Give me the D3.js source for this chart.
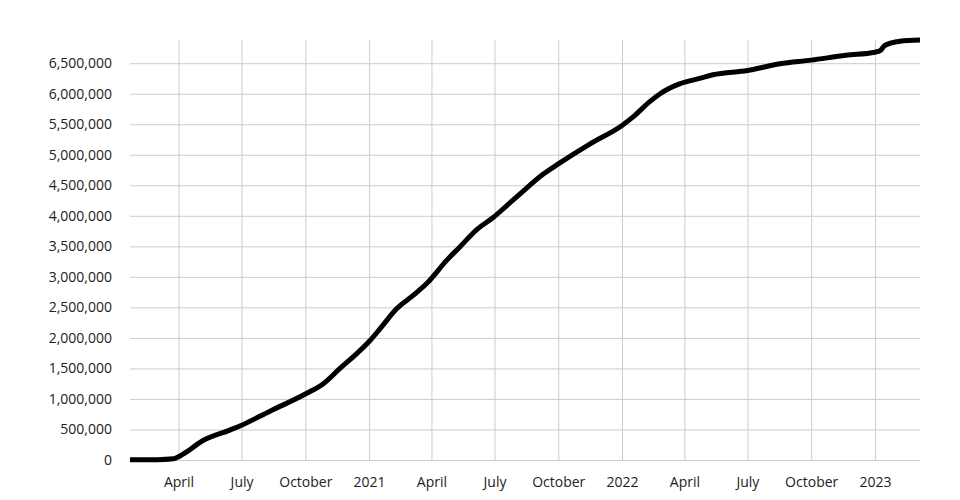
<!DOCTYPE html>
<html>
<head>
<meta charset="utf-8">
<script src="https://cdn.jsdelivr.net/npm/d3@7"></script>
<style>
  html, body { margin: 0; padding: 0; background: #fff; }
  svg { display: block; }
  svg text { font-family: "Open Sans", sans-serif; }
</style>
</head>
<body>
<svg id="chart" width="960" height="500"></svg>
<script>
// Cumulative values
const dates = [
  "2020-01-22","2020-03-01","2020-03-25","2020-04-01","2020-04-15","2020-05-02",
  "2020-06-14","2020-07-01","2020-08-11","2020-10-01","2020-10-27","2020-11-20",
  "2020-12-15","2021-01-01","2021-01-19","2021-02-10","2021-03-06",
  "2021-03-25","2021-04-23","2021-05-12","2021-06-05","2021-06-30","2021-07-18",
  "2021-08-07","2021-09-09","2021-10-01","2021-11-16","2022-01-01","2022-01-17",
  "2022-02-10","2022-02-25","2022-03-25","2022-04-23","2022-05-12","2022-07-01",
  "2022-08-17","2022-10-01","2022-11-20","2023-01-01","2023-01-09","2023-01-15",
  "2023-02-06","2023-03-07"
];
const deaths = [
  5000, 6000, 20000, 55000, 150000, 290000,
  490000, 570000, 800000, 1080000, 1250000, 1500000,
  1750000, 1940000, 2180000, 2480000, 2700000,
  2890000, 3270000, 3490000, 3770000, 3980000, 4160000,
  4360000, 4680000, 4850000, 5180000, 5480000, 5620000,
  5870000, 6000000, 6160000, 6250000, 6310000, 6380000,
  6490000, 6550000, 6630000, 6680000, 6710000, 6790000,
  6860000, 6880000
];
const yTickValues = [0,500000,1000000,1500000,2000000,2500000,3000000,3500000,4000000,4500000,5000000,5500000,6000000,6500000];
const monthNames = ["January","February","March","April","May","June","July","August","September","October","November","December"];

const parse = d3.timeParse("%Y-%m-%d");
const data = dates.map((d, i) => ({ date: parse(d), value: deaths[i] }));

const svg = d3.select("#chart");
const mLeft = 130, mRight = 920, mTop = 40, mBottom = 460;

const x = d3.scaleTime()
  .domain(d3.extent(data, d => d.date))
  .range([mLeft, mRight]);
const y = d3.scaleLinear()
  .domain([0, d3.max(deaths)])
  .range([mBottom, mTop]);

// horizontal grid + y labels
const yAxis = d3.axisLeft(y)
  .tickValues(yTickValues)
  .tickSize(-(mRight - mLeft))
  .tickPadding(18)
  .tickFormat(d3.format(","));
const gy = svg.append("g").attr("transform", `translate(${mLeft},0)`).call(yAxis)
  .attr("font-family", "'Open Sans', sans-serif").attr("font-size", 14);
gy.select(".domain").remove();
gy.selectAll(".tick line").attr("stroke", "#cccccc").attr("stroke-width", 1);
gy.selectAll(".tick text").attr("fill", "#222").attr("x", -18);

// vertical grid + x labels
const xTicks = x.ticks(d3.timeMonth.every(3));
const xAxis = d3.axisBottom(x)
  .tickValues(xTicks)
  .tickSize(-(mBottom - mTop))
  .tickPadding(17)
  .tickFormat(d => d.getMonth() === 0 ? d3.timeFormat("%Y")(d) : monthNames[d.getMonth()]);
const gx = svg.append("g").attr("transform", `translate(0,${mBottom})`).call(xAxis)
  .attr("font-family", "'Open Sans', sans-serif").attr("font-size", 14);
gx.select(".domain").remove();
gx.selectAll(".tick line").attr("stroke", "#cccccc").attr("stroke-width", 1);
gx.selectAll(".tick text").attr("fill", "#222");

// line
const line = d3.line()
  .x(d => x(d.date))
  .y(d => y(d.value))
  .curve(d3.curveMonotoneX);
svg.append("path")
  .datum(data)
  .attr("fill", "none")
  .attr("stroke", "#000")
  .attr("stroke-width", 5)
  .attr("stroke-linejoin", "round")
  .attr("d", line);
</script>
</body>
</html>
